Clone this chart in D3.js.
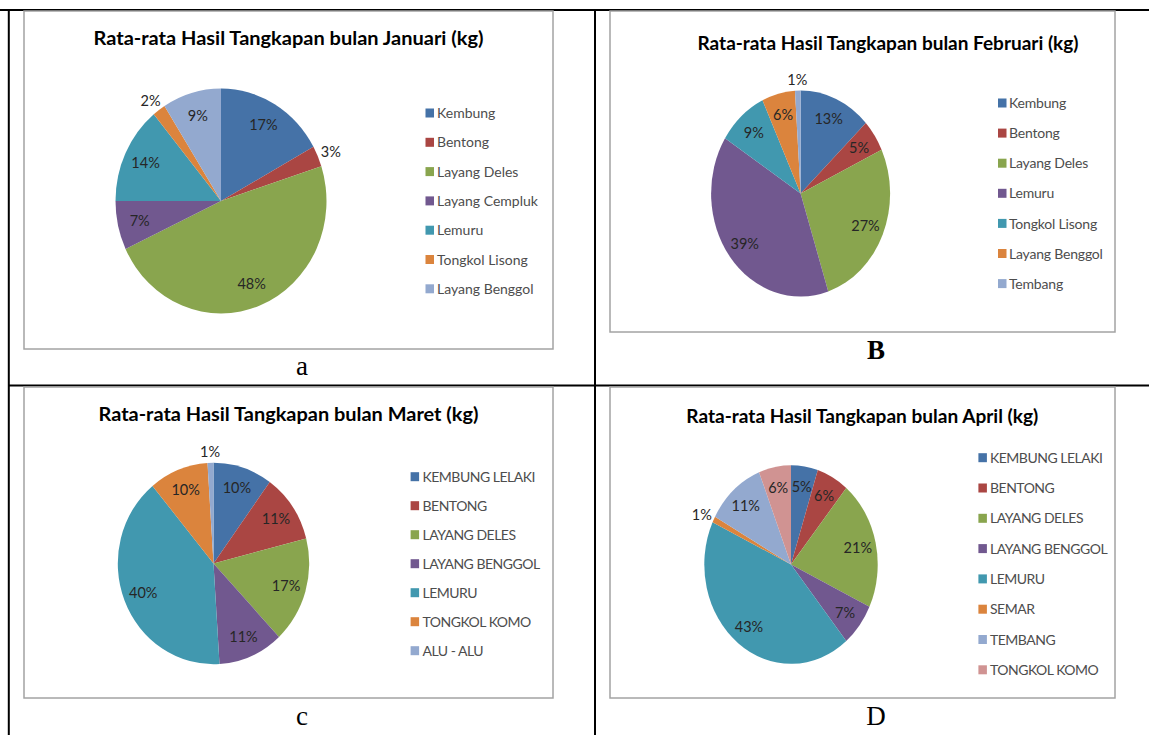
<!DOCTYPE html>
<html>
<head>
<meta charset="utf-8">
<script src="https://cdn.jsdelivr.net/npm/d3@7/dist/d3.min.js"></script>
<style>
  html, body { margin: 0; padding: 0; background: #fff; }
  svg { display: block; }
</style>
</head>
<body>
<svg id="fig" width="1149" height="735"></svg>
<script>
// Monthly average catch shares (%), one pie per month
const janCategories = ["Kembung", "Bentong", "Layang Deles", "Layang Cempluk", "Lemuru", "Tongkol Lisong", "Layang Benggol"];
const janValues = [17, 3, 48, 7, 14, 2, 9];

const febCategories = ["Kembung", "Bentong", "Layang Deles", "Lemuru", "Tongkol Lisong", "Layang Benggol", "Tembang"];
const febValues = [13, 5, 27, 39, 9, 6, 1];

const marCategories = ["KEMBUNG LELAKI", "BENTONG", "LAYANG DELES", "LAYANG BENGGOL", "LEMURU", "TONGKOL KOMO", "ALU - ALU"];
const marValues = [10, 11, 17, 11, 40, 10, 1];

const aprCategories = ["KEMBUNG LELAKI", "BENTONG", "LAYANG DELES", "LAYANG BENGGOL", "LEMURU", "SEMAR", "TEMBANG", "TONGKOL KOMO"];
const aprValues = [5, 6, 21, 7, 43, 1, 11, 6];

const titles = [
  "Rata-rata Hasil Tangkapan bulan Januari (kg)",
  "Rata-rata Hasil Tangkapan bulan Februari (kg)",
  "Rata-rata Hasil Tangkapan bulan Maret (kg)",
  "Rata-rata Hasil Tangkapan bulan April (kg)"
];
const captions = ["a", "B", "c", "D"];

const palette = ["#4572A7", "#AA4643", "#89A54E", "#71588F", "#4198AF", "#DB843D", "#93A9CF", "#D09392"];

// Panel geometry
const panels = [
  { cats: janCategories, vals: janValues, title: titles[0], cap: captions[0], capBold: false,
    frame: [24, 11, 553, 349], titleX: 288.5, titleY: 45, titleW: 390,
    cx: 221, cy: 201, rx: 105.5, ry: 112.5, legSpacing: 0,
    swX: 425.5, txtX: 437, legY: 113, legStep: 29.3, capX: 302, capY: 375 },
  { cats: febCategories, vals: febValues, title: titles[1], cap: captions[1], capBold: true,
    frame: [610, 11, 1115, 332], titleX: 888, titleY: 50, titleW: 381,
    cx: 800.6, cy: 193.5, rx: 89.5, ry: 103, legSpacing: -0.2,
    swX: 998, txtX: 1009, legY: 103, legStep: 30.1, capX: 876, capY: 359 },
  { cats: marCategories, vals: marValues, title: titles[2], cap: captions[2], capBold: false,
    frame: [24, 387, 553, 698], titleX: 288.5, titleY: 421, titleW: 380,
    cx: 213.5, cy: 563.5, rx: 95.7, ry: 100.7, legSpacing: -0.5,
    swX: 410.6, txtX: 422.5, legY: 476.7, legStep: 29, capX: 302, capY: 725 },
  { cats: aprCategories, vals: aprValues, title: titles[3], cap: captions[3], capBold: false,
    frame: [610, 387, 1115, 698], titleX: 862.3, titleY: 423, titleW: 352,
    cx: 791, cy: 564.5, rx: 86.7, ry: 99.3, legSpacing: -0.5,
    swX: 978.4, txtX: 990, legY: 457.7, legStep: 30.3, capX: 876, capY: 725 }
];

const svg = d3.select("#fig");
const uiFont = "Lato, 'Open Sans', sans-serif";

// Table grid
const grid = svg.append("g").attr("stroke", "#000").attr("stroke-width", 2);
grid.append("line").attr("x1", 0).attr("x2", 1149).attr("y1", 10).attr("y2", 10);
grid.append("line").attr("x1", 8.8).attr("x2", 8.8).attr("y1", 9).attr("y2", 735);
grid.append("line").attr("x1", 595).attr("x2", 595).attr("y1", 9).attr("y2", 735);
grid.append("line").attr("x1", 8).attr("x2", 1149).attr("y1", 385.5).attr("y2", 385.5);

const pie = d3.pie().sort(null).value(d => d);

panels.forEach(p => {
  const g = svg.append("g");
  const [x0, y0, x1, y1] = p.frame;

  g.append("rect")
    .attr("x", x0).attr("y", y0)
    .attr("width", x1 - x0).attr("height", y1 - y0)
    .attr("fill", "#fff").attr("stroke", "#a3a3a3").attr("stroke-width", 1.5);

  g.append("text")
    .attr("x", p.titleX).attr("y", p.titleY)
    .attr("text-anchor", "middle")
    .attr("font-family", uiFont).attr("font-weight", "bold")
    .attr("font-size", 19.5).attr("fill", "#000")
    .attr("textLength", p.titleW).attr("lengthAdjust", "spacingAndGlyphs")
    .text(p.title);

  const color = d3.scaleOrdinal().domain(p.cats).range(palette);
  const arcs = pie(p.vals);
  const arc = d3.arc().innerRadius(0).outerRadius(p.rx);
  const sy = p.ry / p.rx;

  const pieG = g.append("g").attr("transform", `translate(${p.cx},${p.cy}) scale(1,${sy})`);
  pieG.selectAll("path").data(arcs).join("path")
    .attr("d", arc)
    .attr("fill", (d, i) => color(p.cats[i]));

  // Percentage labels: inside the slice, or just outside the rim for thin slices
  g.selectAll("text.pct").data(arcs).join("text")
    .attr("class", "pct")
    .attr("x", d => {
      const a = (d.startAngle + d.endAngle) / 2;
      return d.value <= 3
        ? p.cx + Math.sin(a) * (p.rx * 1.04 + 10)
        : p.cx + Math.sin(a) * p.rx * 0.79;
    })
    .attr("y", d => {
      const a = (d.startAngle + d.endAngle) / 2;
      return d.value <= 3
        ? p.cy - Math.cos(a) * (p.ry * 1.04 + 7)
        : p.cy - Math.cos(a) * p.ry * 0.79;
    })
    .attr("dy", "0.36em")
    .attr("text-anchor", "middle")
    .attr("font-family", uiFont).attr("font-size", 14.5)
    .attr("fill", "#262626")
    .text(d => d.value + "%");

  // Legend
  const leg = g.selectAll("g.leg").data(p.cats).join("g")
    .attr("class", "leg")
    .attr("transform", (d, i) => `translate(0,${p.legY + i * p.legStep})`);
  leg.append("rect")
    .attr("x", p.swX).attr("y", -4.5)
    .attr("width", 8.5).attr("height", 9)
    .attr("fill", d => color(d));
  leg.append("text")
    .attr("x", p.txtX).attr("y", 0).attr("dy", "0.37em")
    .attr("font-family", uiFont).attr("font-size", 14)
    .attr("letter-spacing", p.legSpacing)
    .attr("fill", "#4d4d4d")
    .text(d => d);

  // Panel caption below the chart frame
  g.append("text")
    .attr("x", p.capX).attr("y", p.capY)
    .attr("text-anchor", "middle")
    .attr("font-family", "'Liberation Serif', 'Times New Roman', serif")
    .attr("font-weight", p.capBold ? "bold" : "normal")
    .attr("font-size", 27).attr("fill", "#000")
    .text(p.cap);
});
</script>
</body>
</html>
